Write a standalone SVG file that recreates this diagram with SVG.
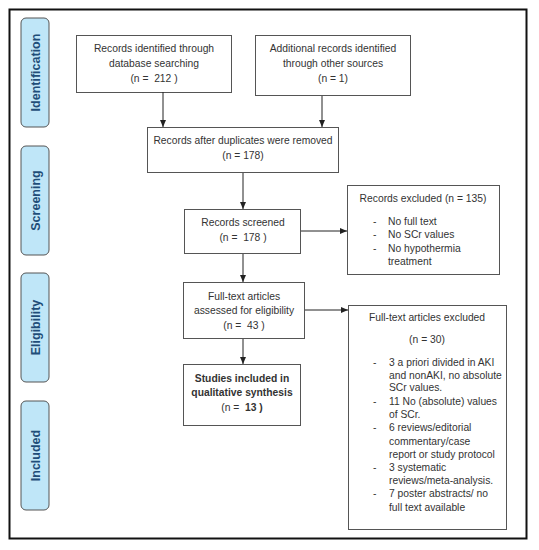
<svg xmlns="http://www.w3.org/2000/svg" width="539" height="550" viewBox="0 0 539 550">
<defs>
<marker id="ah" markerWidth="8" markerHeight="8" refX="7" refY="4" orient="auto" markerUnits="userSpaceOnUse">
<path d="M0,1 L7,4 L0,7 Z" fill="#222"/>
</marker>
<style>
.box{fill:#fff;stroke:#555;stroke-width:1}
.side{fill:#bfe6f8;stroke:#555;stroke-width:1}
.st{font-family:"Liberation Sans",Arial,sans-serif;font-size:12.5px;font-weight:bold;fill:#1f4e79;text-anchor:middle}
.t{font-family:"Liberation Sans",Arial,sans-serif;font-size:10.3px;fill:#333;text-anchor:middle}
.l{font-family:"Liberation Sans",Arial,sans-serif;font-size:10.3px;fill:#333}
.b{font-weight:bold}
.c{stroke:#222;stroke-width:1;fill:none;marker-end:url(#ah)}
</style>
</defs>
<rect width="539" height="550" fill="#fff"/>
<rect x="9.5" y="9.5" width="517" height="529" fill="none" stroke="#111" stroke-width="2"/>
<g id="side-identification"><rect class="side" x="21" y="18" width="28" height="109" rx="5"/><text class="st" transform="translate(39.5,72.5) rotate(-90)">Identification</text></g>
<g id="side-screening"><rect class="side" x="21" y="146" width="28" height="109" rx="5"/><text class="st" transform="translate(39.5,200.5) rotate(-90)">Screening</text></g>
<g id="side-eligibility"><rect class="side" x="21" y="273" width="28" height="109" rx="5"/><text class="st" transform="translate(39.5,327.5) rotate(-90)">Eligibility</text></g>
<g id="side-included"><rect class="side" x="21" y="401" width="28" height="109" rx="5"/><text class="st" transform="translate(39.5,455.5) rotate(-90)">Included</text></g>
<g id="n1"><rect class="box" x="76.5" y="35.5" width="155" height="57"/>
<text class="t" x="154" y="52">Records identified through</text>
<text class="t" x="154" y="67">database searching</text>
<text class="t" x="154" y="82">(n =&#160; 212 )</text></g>
<g id="n2"><rect class="box" x="255.5" y="35.5" width="155" height="60"/>
<text class="t" x="333" y="52">Additional records identified</text>
<text class="t" x="333" y="67">through other sources</text>
<text class="t" x="333" y="82">(n = 1)</text></g>
<g id="n3"><rect class="box" x="147.5" y="127.5" width="191" height="45"/>
<text class="t" x="243" y="144">Records after duplicates were removed</text>
<text class="t" x="243" y="159">(n = 178)</text></g>
<g id="n4"><rect class="box" x="184.5" y="209.5" width="116" height="44"/>
<text class="t" x="243" y="226">Records screened</text>
<text class="t" x="243" y="241">(n =&#160; 178 )</text></g>
<g id="n5"><rect class="box" x="347.5" y="185.5" width="152" height="89"/>
<text class="t" x="423" y="202">Records excluded (n = 135)</text>
<text class="l" x="373" y="225">-</text><text class="l" x="388" y="225">No full text</text>
<text class="l" x="373" y="238">-</text><text class="l" x="388" y="238">No SCr values</text>
<text class="l" x="373" y="252">-</text><text class="l" x="388" y="252">No hypothermia</text>
<text class="l" x="388" y="265">treatment</text></g>
<g id="n6"><rect class="box" x="183.5" y="282.5" width="121" height="56"/>
<text class="t" x="244" y="300">Full-text articles</text>
<text class="t" x="244" y="314">assessed for eligibility</text>
<text class="t" x="244" y="329">(n =&#160; 43 )</text></g>
<g id="n7"><rect class="box" x="348.5" y="305.5" width="158" height="224"/>
<text class="t" x="427" y="321">Full-text articles excluded</text>
<text class="t" x="427" y="343">(n = 30)</text>
<text class="l" x="373" y="366">-</text><text class="l" x="389" y="366">3 a priori divided in AKI</text>
<text class="l" x="389" y="379">and nonAKI, no absolute</text>
<text class="l" x="389" y="391">SCr values.</text>
<text class="l" x="373" y="405">-</text><text class="l" x="389" y="405">11 No (absolute) values</text>
<text class="l" x="389" y="418">of SCr.</text>
<text class="l" x="373" y="431">-</text><text class="l" x="389" y="431">6 reviews/editorial</text>
<text class="l" x="389" y="445">commentary/case</text>
<text class="l" x="389" y="458">report or study protocol</text>
<text class="l" x="373" y="471">-</text><text class="l" x="389" y="471">3 systematic</text>
<text class="l" x="389" y="484">reviews/meta-analysis.</text>
<text class="l" x="373" y="497">-</text><text class="l" x="389" y="497">7 poster abstracts/ no</text>
<text class="l" x="389" y="511">full text available</text></g>
<g id="n8"><rect class="box" x="183.5" y="364.5" width="117" height="61"/>
<text class="t b" x="242" y="382">Studies included in</text>
<text class="t b" x="242" y="396">qualitative synthesis</text>
<text class="t" x="242" y="411">(n =&#160; <tspan class="b">13 )</tspan></text></g>
<g id="connectors">
<line class="c" x1="163" y1="92" x2="163" y2="127"/>
<line class="c" x1="322" y1="96" x2="322" y2="127"/>
<line class="c" x1="243" y1="173" x2="243" y2="209"/>
<line class="c" x1="301" y1="231" x2="347" y2="231"/>
<line class="c" x1="243" y1="254" x2="243" y2="282"/>
<line class="c" x1="305" y1="310" x2="348" y2="310"/>
<line class="c" x1="243" y1="339" x2="243" y2="364"/>
</g>
</svg>
